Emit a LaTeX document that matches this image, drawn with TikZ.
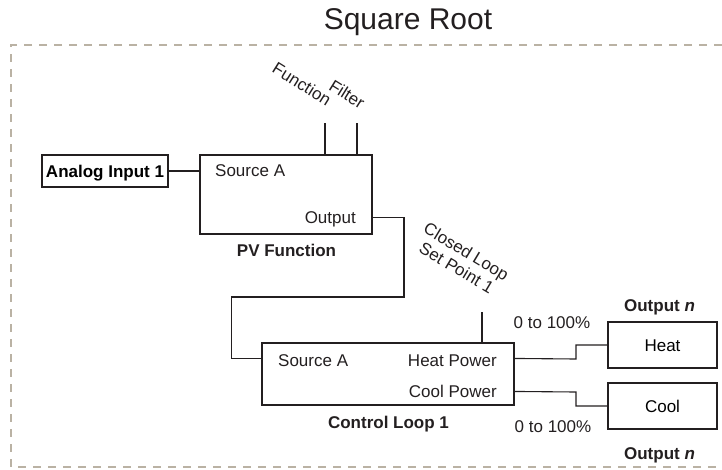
\documentclass[tikz,border=0pt]{standalone}
\usepackage{fontspec}
\setmainfont{Liberation Sans}
\definecolor{ink}{RGB}{35,31,32}
\definecolor{framec}{RGB}{186,178,164}
\begin{document}
\begin{tikzpicture}[x=1pt,y=-1pt,
  font=\fontsize{17}{19}\selectfont,
  box/.style={draw=ink, line width=1.1pt, inner sep=0pt, text height=12.2pt, text depth=0pt},
  wire/.style={draw=ink, line width=1.1pt},
  lbl/.style={inner sep=0pt, text=ink},
  frame/.style={draw=framec, line width=1.7pt, dash pattern=on 8pt off 7pt}]
\useasboundingbox (0,0) rectangle (722,469);

% title
\node[lbl, anchor=base, font=\fontsize{30}{34}\selectfont] (title) at (408,29) {Square Root};

% frame
\draw[frame] (722,45) -- (11,45) -- (11,467) -- (722,467);

% boxes
\node[box, minimum width=126pt, minimum height=32pt, font=\fontsize{17}{19}\selectfont\bfseries] (ai) at (105,171) {Analog Input 1};
\node[box, minimum width=172pt, minimum height=79pt] (pv) at (286,194.5) {};
\node[box, minimum width=252pt, minimum height=62pt] (cl) at (388,374) {};
\node[box, minimum width=109pt, minimum height=46pt] (heat) at (662.5,345) {Heat};
\node[box, minimum width=109pt, minimum height=46pt] (cool) at (662.5,406) {Cool};

% PV function labels
\node[lbl, anchor=base west] (pvsrc) at (215,176.5) {Source A};
\node[lbl, anchor=base east] (pvout) at (356,223) {Output};
\node[lbl, anchor=base, font=\fontsize{17}{19}\selectfont\bfseries] (pvname) at (286.5,256) {PV Function};

% Control loop labels
\node[lbl, anchor=base west] (clsrc) at (278,366) {Source A};
\node[lbl, anchor=base east] (clheat) at (497,366) {Heat Power};
\node[lbl, anchor=base east] (clcool) at (497,397) {Cool Power};
\node[lbl, anchor=base, font=\fontsize{17}{19}\selectfont\bfseries] (clname) at (388.5,428) {Control Loop 1};

% output labels
\node[lbl, anchor=base] (pct1) at (552,328) {0 to 100\%};
\node[lbl, anchor=base] (pct2) at (553,432) {0 to 100\%};
\node[lbl, anchor=base, font=\fontsize{17}{19}\selectfont\bfseries] (outn1) at (659.5,311) {Output \textit{n}};
\node[lbl, anchor=base, font=\fontsize{17}{19}\selectfont\bfseries] (outn2) at (659.5,459) {Output \textit{n}};

% rotated labels
\node[lbl, rotate=-32] (fnlbl) at (302,84) {Function};
\node[lbl, rotate=-32] (fllbl) at (347,94) {Filter};
\node[lbl, rotate=-31, align=center] (splbl) at (461.5,259.5) {Closed Loop\\Set Point 1};

% connector ends
\coordinate (fn) at (325,123);
\coordinate (fl) at (357,123);
\coordinate (sp) at (482,312);

% connectors
\draw[wire] (ai.east) -- (ai.east -| pv.west);
\draw[wire] (fn) -- (fn |- pv.north);
\draw[wire] (fl) -- (fl |- pv.north);
\draw[wire] ([yshift=17pt]pv.south east) -| (404,297) -| ([xshift=-30pt,yshift=-16pt]cl.north west) -- ([yshift=-16pt]cl.north west);
\draw[wire] (sp) -- (sp |- cl.north);
\draw[wire] ([yshift=-16pt]cl.north east) -- (576,359) |- (heat.west);
\draw[wire] ([yshift=-49pt]cl.north east) -- (576,392) |- (cool.west);
\end{tikzpicture}
\end{document}
